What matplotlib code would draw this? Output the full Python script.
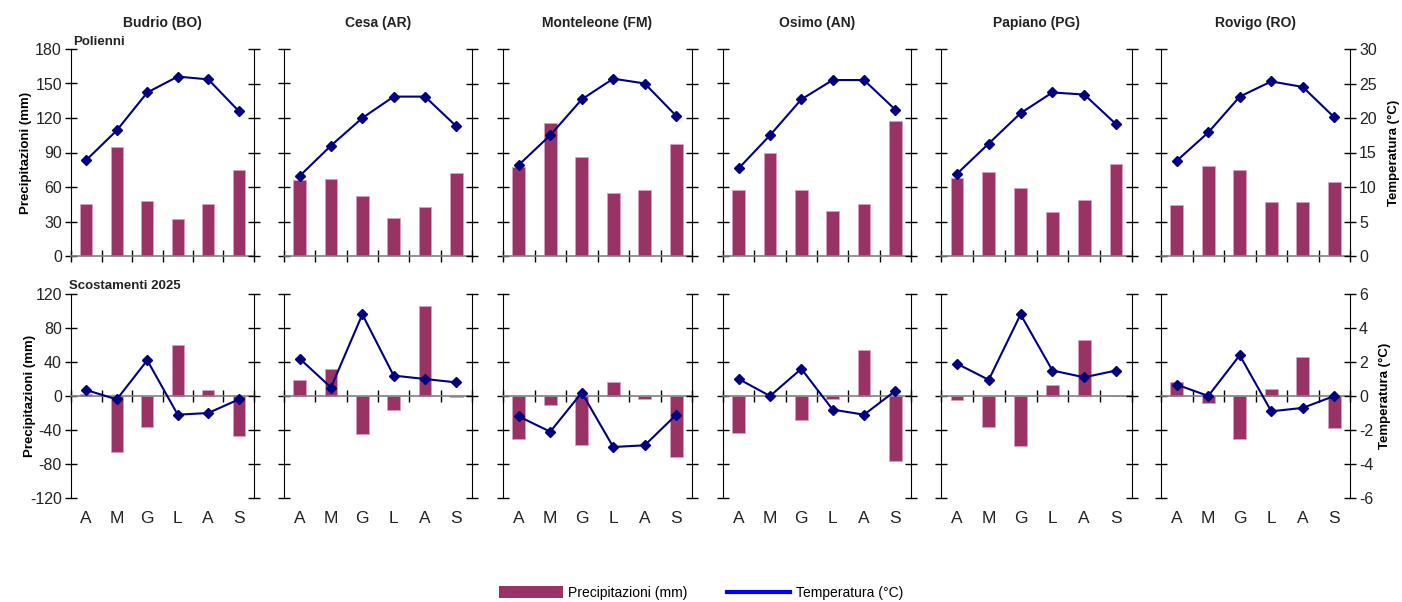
import numpy as np
import matplotlib
matplotlib.use("Agg")
import matplotlib.pyplot as plt
from matplotlib.patches import Patch
from matplotlib.lines import Line2D

plt.rcParams['font.family'] = ['Liberation Sans', 'DejaVu Sans']
plt.rcParams['axes.unicode_minus'] = False

# --- data ---
stations = ["Budrio (BO)", "Cesa (AR)", "Monteleone (FM)", "Osimo (AN)", "Papiano (PG)", "Rovigo (RO)"]
months = ["A", "M", "G", "L", "A", "S"]

# poliennial means
prec_budrio = [45, 95, 48, 32, 45, 75]
prec_cesa = [66, 67, 52, 33, 43, 72]
prec_monteleone = [77, 116, 86, 55, 57, 97]
prec_osimo = [57, 90, 57, 39, 45, 117]
prec_papiano = [68, 73, 59, 38, 49, 80]
prec_rovigo = [44, 78, 75, 47, 47, 64]

temp_budrio = [13.9, 18.2, 23.7, 26.0, 25.6, 21.0]
temp_cesa = [11.6, 16.0, 20.0, 23.1, 23.1, 18.8]
temp_monteleone = [13.2, 17.5, 22.7, 25.7, 25.0, 20.3]
temp_osimo = [12.7, 17.5, 22.7, 25.5, 25.5, 21.2]
temp_papiano = [11.9, 16.3, 20.7, 23.7, 23.4, 19.1]
temp_rovigo = [13.8, 17.9, 23.1, 25.3, 24.5, 20.1]

# 2025 deviations
dprec_budrio = [2, -66, -36, 60, 7, -47]
dprec_cesa = [19, 32, -45, -17, 106, -1]
dprec_monteleone = [-51, -10, -58, 17, -3, -72]
dprec_osimo = [-43, 1, -28, -3, 54, -77]
dprec_papiano = [-5, -37, -59, 13, 66, 0]
dprec_rovigo = [17, -8, -51, 8, 46, -38]

dtemp_budrio = [0.35, -0.2, 2.1, -1.1, -1.0, -0.2]
dtemp_cesa = [2.2, 0.5, 4.8, 1.2, 1.0, 0.8]
dtemp_monteleone = [-1.2, -2.1, 0.2, -3.0, -2.9, -1.1]
dtemp_osimo = [1.0, 0.0, 1.6, -0.8, -1.1, 0.3]
dtemp_papiano = [1.9, 0.95, 4.8, 1.5, 1.1, 1.5]
dtemp_rovigo = [0.67, 0.0, 2.4, -0.9, -0.7, 0.0]

prec = [prec_budrio, prec_cesa, prec_monteleone, prec_osimo, prec_papiano, prec_rovigo]
temp = [temp_budrio, temp_cesa, temp_monteleone, temp_osimo, temp_papiano, temp_rovigo]
dprec = [dprec_budrio, dprec_cesa, dprec_monteleone, dprec_osimo, dprec_papiano, dprec_rovigo]
dtemp = [dtemp_budrio, dtemp_cesa, dtemp_monteleone, dtemp_osimo, dtemp_papiano, dtemp_rovigo]

# --- layout (pixels) ---
W, H = 1402, 602
lefts = [71, 284, 503, 723, 941, 1161]
widths = [183, 188, 189, 188, 191, 189]
top_row = (49, 256)
bot_row = (294, 498)

BAR = "#993366"
LINE = "#000080"
TXT = "#222222"

fig = plt.figure(figsize=(W / 100, H / 100), dpi=100)


def make_ax(i, row):
    t, b = row
    return fig.add_axes([lefts[i] / W, 1 - b / H, widths[i] / W, (b - t) / H])


def style(ax, axt, ylim, yt, tlim, tt, i, zero_axis):
    x = np.arange(len(months))
    ax.set_xlim(-0.5, len(months) - 0.5)
    ax.set_ylim(*ylim)
    ax.set_yticks(yt)
    axt.set_ylim(*tlim)
    axt.set_yticks(tt)
    for a in (ax, axt):
        a.spines['top'].set_visible(False)
    ax.spines['right'].set_visible(False)
    axt.spines['left'].set_visible(False)
    axt.spines['bottom'].set_visible(False)
    ax.spines['left'].set_color('black')
    axt.spines['right'].set_color('black')
    ax.spines['bottom'].set_color('#808080')
    ax.spines['bottom'].set_linewidth(1.2)
    if zero_axis:
        ax.spines['bottom'].set_position(('data', 0))
    ax.set_xticks(x)
    ax.set_xticklabels([])
    ax.tick_params(axis='x', which='major', length=0)
    ax.set_xticks(np.arange(len(months) + 1) - 0.5, minor=True)
    ax.tick_params(axis='x', which='minor', direction='inout', length=9, width=1, color='black')
    ax.tick_params(axis='y', direction='inout', length=9, width=1, labelsize=11.5, labelcolor=TXT, pad=2)
    axt.tick_params(axis='y', direction='inout', length=9, width=1, labelsize=11.5, labelcolor=TXT, pad=2)
    if i != 0:
        ax.set_yticklabels([])
    if i != len(stations) - 1:
        axt.set_yticklabels([])


for i, name in enumerate(stations):
    x = np.arange(len(months))

    # top row: poliennial means
    ax = make_ax(i, top_row)
    ax.bar(x, prec[i], width=0.4, color=BAR, edgecolor='#d9a0bf', linewidth=0.6, zorder=2)
    axt = ax.twinx()
    axt.plot(x, temp[i], color=LINE, lw=1.5, marker='D', ms=5.5, zorder=3)
    style(ax, axt, (0, 180), np.arange(0, 181, 30), (0, 30), np.arange(0, 31, 5), i, False)
    ax.set_title(name, fontsize=10, fontweight='bold', pad=16, color=TXT)
    if i == 0:
        ax.set_ylabel("Precipitazioni (mm)", fontsize=9.5, fontweight='bold', labelpad=2)
        ax.text(0.01, 1.005, "Polienni", transform=ax.transAxes, fontsize=9.5,
                fontweight='bold', ha='left', va='bottom', color=TXT)
    if i == len(stations) - 1:
        axt.set_ylabel("Temperatura (°C)", fontsize=9.5, fontweight='bold', labelpad=8)

    # bottom row: 2025 deviations
    ax = make_ax(i, bot_row)
    ax.bar(x, dprec[i], width=0.4, color=BAR, edgecolor='#d9a0bf', linewidth=0.6, zorder=2)
    axt = ax.twinx()
    axt.plot(x, dtemp[i], color=LINE, lw=1.5, marker='D', ms=5.5, zorder=3)
    style(ax, axt, (-120, 120), np.arange(-120, 121, 40), (-6, 6), np.arange(-6, 7, 2), i, True)
    sec = ax.secondary_xaxis(-0.01)
    sec.set_xticks(x)
    sec.set_xticklabels(months)
    sec.tick_params(length=0, labelsize=12.5, labelcolor=TXT, pad=8)
    sec.spines['bottom'].set_visible(False)
    if i == 0:
        ax.set_ylabel("Precipitazioni (mm)", fontsize=9.5, fontweight='bold', labelpad=-4)
        ax.text(-0.01, 1.01, "Scostamenti 2025", transform=ax.transAxes, fontsize=9.5,
                fontweight='bold', ha='left', va='bottom', color=TXT)
    if i == len(stations) - 1:
        axt.set_ylabel("Temperatura (°C)", fontsize=9.5, fontweight='bold', labelpad=4)

handles = [Patch(facecolor=BAR, edgecolor='none'), Line2D([0], [0], color='#0000ff', lw=3)]
fig.legend(handles, ["Precipitazioni (mm)", "Temperatura (°C)"], loc='center',
           bbox_to_anchor=(0.5, 0.015), ncol=2, frameon=False, fontsize=10,
           handlelength=4.6, handleheight=0.9, handletextpad=0.4, columnspacing=2.8)

fig.savefig("out.png", dpi=100, facecolor='white')
